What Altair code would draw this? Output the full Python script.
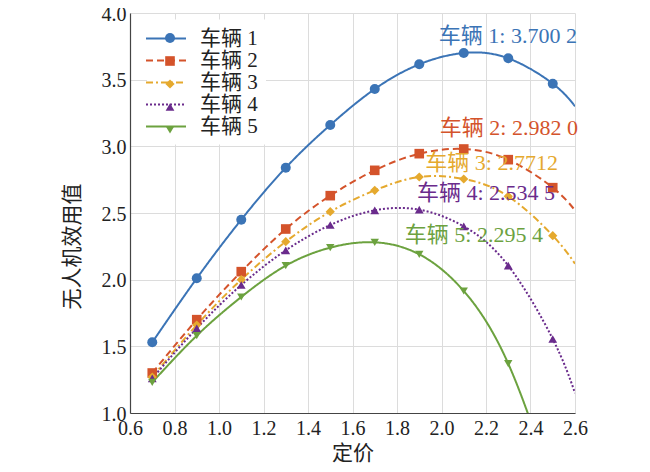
import altair as alt
import pandas as pd

# ---------------- data ----------------
vehicles = ["车辆 1", "车辆 2", "车辆 3", "车辆 4", "车辆 5"]
prices = [0.7, 0.9, 1.1, 1.3, 1.5, 1.7, 1.9, 2.1, 2.3, 2.5]
u1 = [1.53, 2.01, 2.45, 2.84, 3.16, 3.43, 3.615, 3.70, 3.66, 3.47]
u2 = [1.30, 1.70, 2.06, 2.38, 2.63, 2.82, 2.945, 2.98, 2.90, 2.69]
u3 = [1.27, 1.66, 2.00, 2.285, 2.51, 2.67, 2.77, 2.755, 2.625, 2.33]
u4 = [1.26, 1.635, 1.96, 2.22, 2.41, 2.52, 2.525, 2.40, 2.105, 1.555]
u5 = [1.23, 1.58, 1.87, 2.105, 2.24, 2.28, 2.19, 1.915, 1.37, 0.45]
utilities = [u1, u2, u3, u4, u5]
end_price = 2.6
end_utilities = [3.30, 2.52, 2.12, 1.15, None]

peak_prices = [2.15, 2.06, 1.96, 1.80, 1.66]
peak_utilities = [3.7002, 2.9820, 2.7712, 2.5345, 2.2954]
peak_labels = ["车辆 1: 3.700 2", "车辆 2: 2.982 0", "车辆 3: 2.7712",
               "车辆 4: 2.534 5", "车辆 5: 2.295 4"]
label_dx = [33, 54, 59, 89, 108]
label_dy = [-17, -21, -14, -15, -5]

x_ticks = [0.6, 0.8, 1.0, 1.2, 1.4, 1.6, 1.8, 2.0, 2.2, 2.4, 2.6]
y_ticks = [1.0, 1.5, 2.0, 2.5, 3.0, 3.5, 4.0]

colors = ["#3B74B6", "#D4532B", "#E5A92E", "#6A2B8C", "#6CA23F"]
dashes = [[1, 0], [7, 4], [7, 3, 2, 3], [2, 2], [1, 0]]
shapes = ["circle", "square", "diamond", "triangle-up", "triangle-down"]
marker_sizes = [100, 70, 120, 140, 140]

SERIF = "'Liberation Serif', 'DejaVu Serif', 'Noto Sans CJK SC', serif"

# ---------------- tables ----------------
pt_rows, line_rows = [], []
for name, vals, endv in zip(vehicles, utilities, end_utilities):
    for p, v in zip(prices, vals):
        pt_rows.append({"vehicle": name, "price": p, "u": v})
        line_rows.append({"vehicle": name, "price": p, "u": v})
    if endv is not None:
        line_rows.append({"vehicle": name, "price": end_price, "u": endv})
pts = pd.DataFrame(pt_rows)
lines_df = pd.DataFrame(line_rows)

x_scale = alt.Scale(domain=[0.6, 2.6], nice=False, zero=False)
y_scale = alt.Scale(domain=[1.0, 4.0], nice=False, zero=False)

X = alt.X("price:Q", scale=x_scale,
          axis=alt.Axis(values=x_ticks, format=".1f", title="定价", titlePadding=4,
                        labelPadding=5, labelFlush=False))
Y = alt.Y("u:Q", scale=y_scale,
          axis=alt.Axis(values=y_ticks, format=".1f", title="无人机效用值",
                        titleX=-58, titleY=233, titleAlign="center",
                        titleBaseline="middle", labelPadding=4, labelFlush=False,
                        labelOffset=1))

line_legend = alt.Legend(title=None, orient="none", legendX=17, legendY=6.5,
                         symbolType="M-2,0L2,0", symbolSize=400, symbolStrokeWidth=2,
                         labelFontSize=21, labelFont=SERIF, labelColor="#222",
                         labelOffset=23, padding=8, rowPadding=1, fillColor="white")
pt_legend = alt.Legend(title=None, orient="none", legendX=21.5, legendY=6.5,
                       symbolSize=115, symbolStrokeWidth=0,
                       labelFontSize=21, labelFont=SERIF, labelOpacity=0,
                       labelOffset=13, padding=8, rowPadding=1)

lines = alt.Chart(lines_df).mark_line(strokeWidth=2, interpolate="natural", clip=True).encode(
    x=X, y=Y,
    color=alt.Color("vehicle:N", scale=alt.Scale(domain=vehicles, range=colors), legend=line_legend),
    strokeDash=alt.StrokeDash("vehicle:N", scale=alt.Scale(domain=vehicles, range=dashes), legend=line_legend),
)

points = alt.Chart(pts).mark_point(filled=True, opacity=1, clip=True).encode(
    x=X, y=Y,
    color=alt.Color("vehicle:N", scale=alt.Scale(domain=vehicles, range=colors), legend=pt_legend),
    shape=alt.Shape("vehicle:N", scale=alt.Scale(domain=vehicles, range=shapes), legend=pt_legend),
    size=alt.Size("vehicle:N", scale=alt.Scale(domain=vehicles, range=marker_sizes), legend=None),
)

texts = []
for i in range(5):
    df = pd.DataFrame({"price": [peak_prices[i]], "u": [peak_utilities[i]], "label": [peak_labels[i]]})
    texts.append(
        alt.Chart(df).mark_text(dx=label_dx[i], dy=label_dy[i], color=colors[i], fontSize=22,
                                font=SERIF, align="center", baseline="middle").encode(
            x=X, y=Y, text="label:N")
    )

chart = alt.layer(lines, points, *texts).resolve_scale(
    color="independent", shape="independent", strokeDash="independent", size="independent"
).properties(
    width=445, height=400,
    autosize=alt.AutoSizeParams(type="none"),
    padding={"left": 122, "top": 5, "right": 67, "bottom": 51},
).configure_view(stroke=None).configure_axis(
    labelFont=SERIF, labelFontSize=20, labelColor="#222",
    titleFont=SERIF, titleFontSize=21, titleFontWeight="normal", titleColor="#222",
    gridColor="#dcdcdc", gridWidth=1, domainColor="#444", domainWidth=1.2,
    ticks=False,
)

chart.save("out.html", embed_options={"renderer": "svg", "actions": False})
